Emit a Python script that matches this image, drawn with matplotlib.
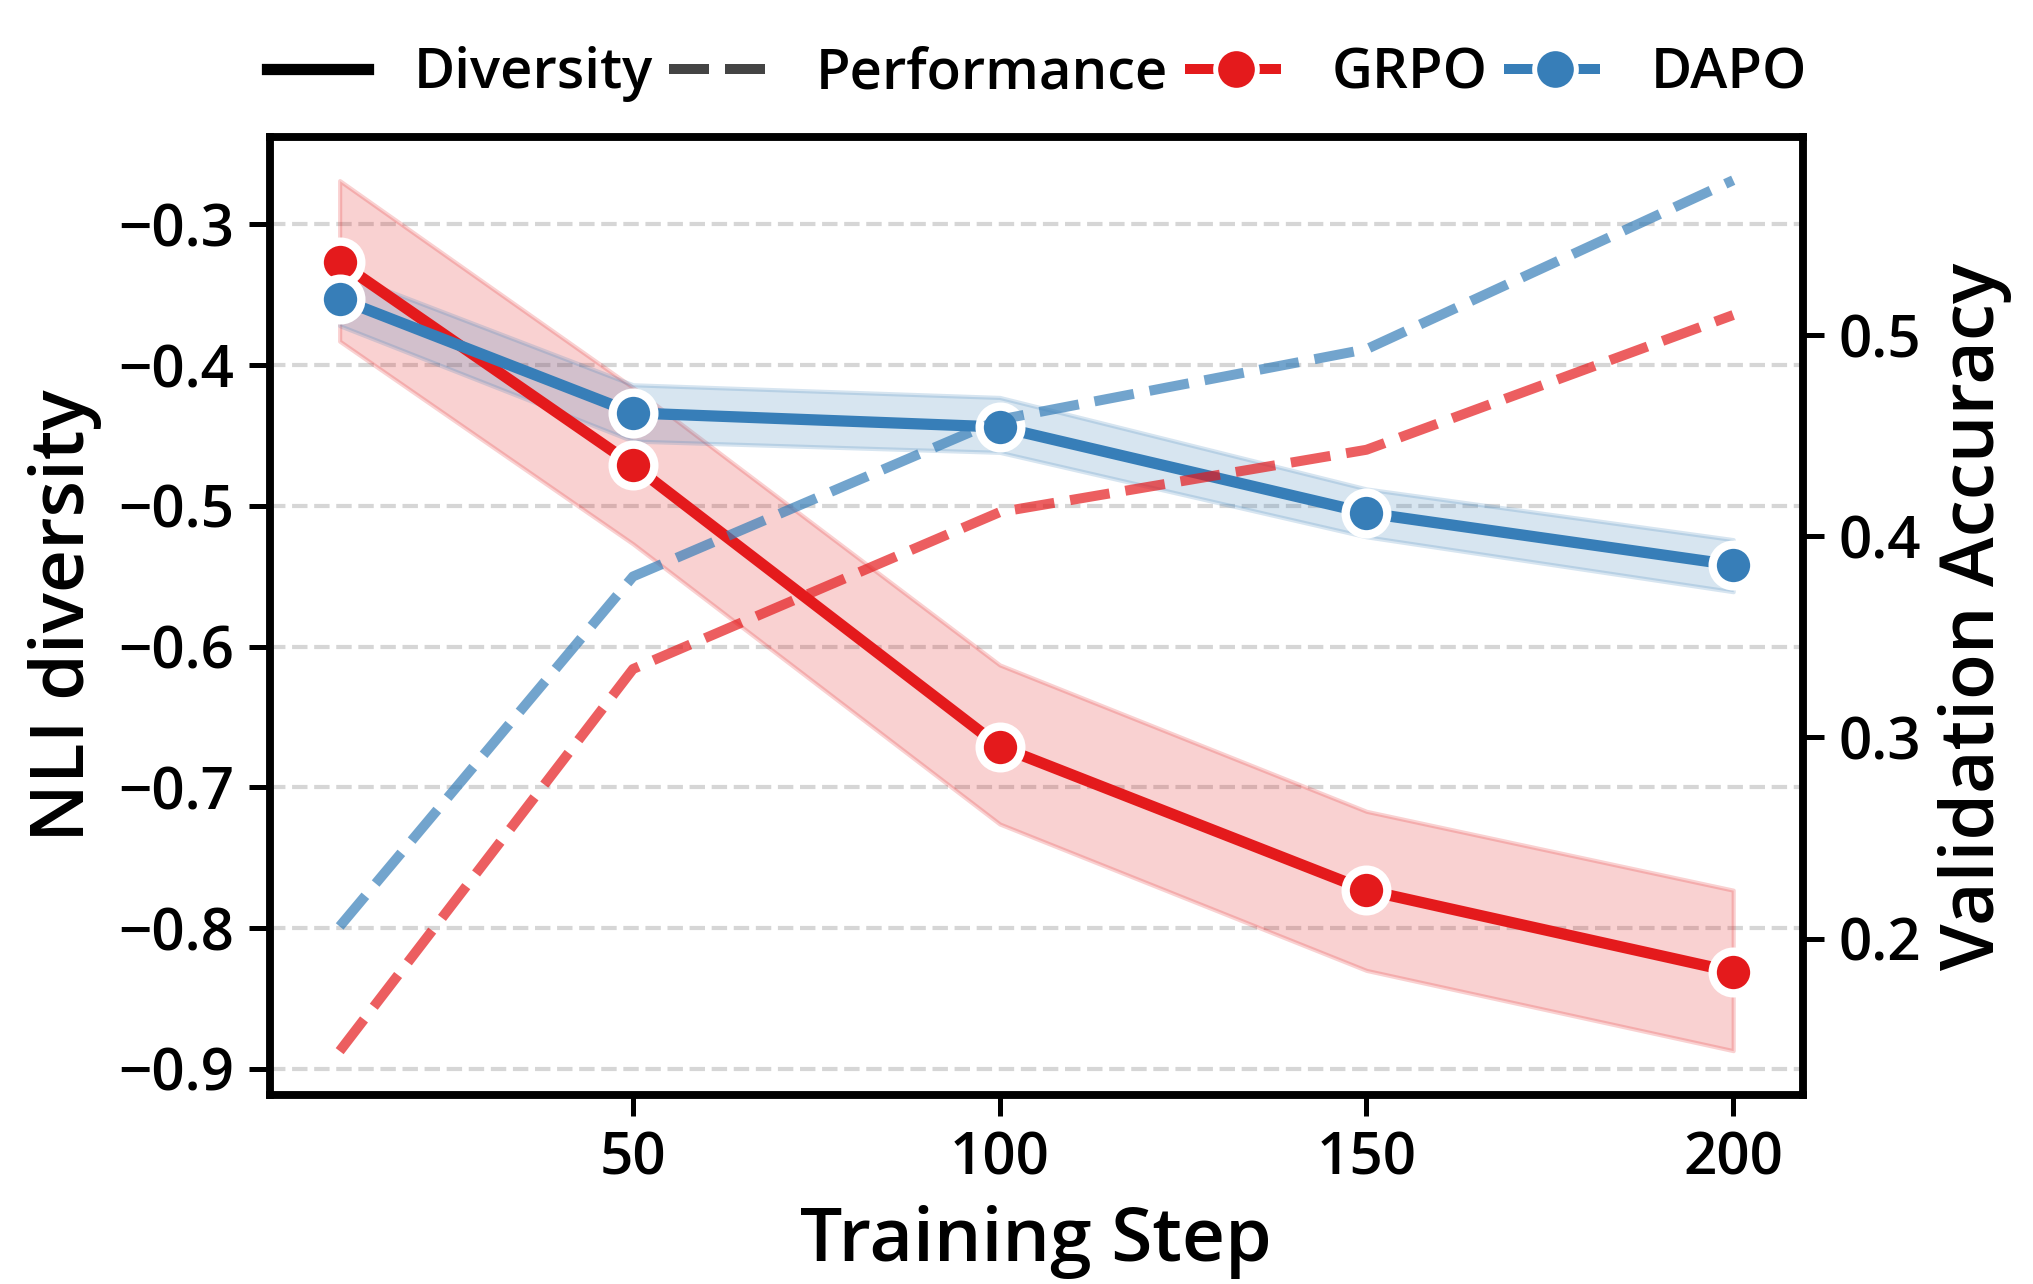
import matplotlib
matplotlib.use("Agg")
import matplotlib.pyplot as plt
from matplotlib.lines import Line2D

plt.rcParams["font.family"] = ["Open Sans", "DejaVu Sans"]
plt.rcParams["font.weight"] = "semibold"

steps = [10, 50, 100, 150, 200]

# NLI diversity (left axis): mean and band
grpo_div = [-0.327, -0.471, -0.671, -0.773, -0.831]
grpo_div_lo = [-0.383, -0.527, -0.726, -0.830, -0.887]
grpo_div_hi = [-0.269, -0.416, -0.613, -0.717, -0.773]
dapo_div = [-0.353, -0.434, -0.444, -0.505, -0.542]
dapo_div_lo = [-0.372, -0.454, -0.462, -0.522, -0.561]
dapo_div_hi = [-0.334, -0.414, -0.423, -0.488, -0.524]

# validation accuracy (right axis)
grpo_acc = [0.144, 0.334, 0.412, 0.443, 0.510]
dapo_acc = [0.206, 0.380, 0.458, 0.493, 0.577]

RED = "#e41a1c"
BLUE = "#377eb8"
DASH = (0, (4, 1.6))

fig = plt.figure(figsize=(2033 / 300, 1284 / 300), dpi=300)
ax = fig.add_axes([0.1328, 0.1472, 0.754, 0.7461])
ax2 = ax.twinx()

for vals, lo, hi, col in [(grpo_div, grpo_div_lo, grpo_div_hi, RED),
                          (dapo_div, dapo_div_lo, dapo_div_hi, BLUE)]:
    ax.fill_between(steps, lo, hi, color=col, alpha=0.2, lw=1)
    ax.plot(steps, vals, color=col, lw=2.7, marker="o", ms=10,
            mec="white", mew=2, zorder=5)

ax2.plot(steps, grpo_acc, color=RED, lw=2.4, ls=DASH, alpha=0.7)
ax2.plot(steps, dapo_acc, color=BLUE, lw=2.4, ls=DASH, alpha=0.7)

ax.set_xlim(0.5, 209.5)
ax.set_ylim(-0.9185, -0.238)
ax2.set_ylim(0.1222, 0.5985)
ax.set_xticks([50, 100, 150, 200])
ax.set_yticks([-0.3, -0.4, -0.5, -0.6, -0.7, -0.8, -0.9])
ax.set_yticklabels(["\u22120.3", "\u22120.4", "\u22120.5", "\u22120.6",
                    "\u22120.7", "\u22120.8", "\u22120.9"])
ax2.set_yticks([0.2, 0.3, 0.4, 0.5])
ax.yaxis.grid(True, ls="--", color="#cccccc", lw=1, alpha=0.8)
ax.set_axisbelow(True)

for a in (ax, ax2):
    for s in a.spines.values():
        s.set_linewidth(1.8)
    a.tick_params(labelsize=14, width=1.2, length=5)

ax.set_xlabel("Training Step", fontsize=18, fontweight="semibold")
ax.set_ylabel("NLI diversity", fontsize=18, fontweight="semibold")
ax2.set_ylabel("Validation Accuracy", fontsize=18, fontweight="semibold")

handles = [
    Line2D([], [], color="black", lw=2.7),
    Line2D([], [], color="#444444", lw=2.4, ls=DASH),
    Line2D([], [], color=RED, lw=2.4, ls=DASH, marker="o", ms=10, mec="white", mew=1.2),
    Line2D([], [], color=BLUE, lw=2.4, ls=DASH, marker="o", ms=10, mec="white", mew=1.2),
]
fig.legend(handles, ["Diversity", "Performance", "GRPO", "DAPO"],
           loc="center", bbox_to_anchor=(0.51, 0.942), ncol=4, frameon=False,
           fontsize=13.5, handlelength=1.8, handletextpad=0.8, columnspacing=0.3)

fig.savefig("out.png", dpi=300)
